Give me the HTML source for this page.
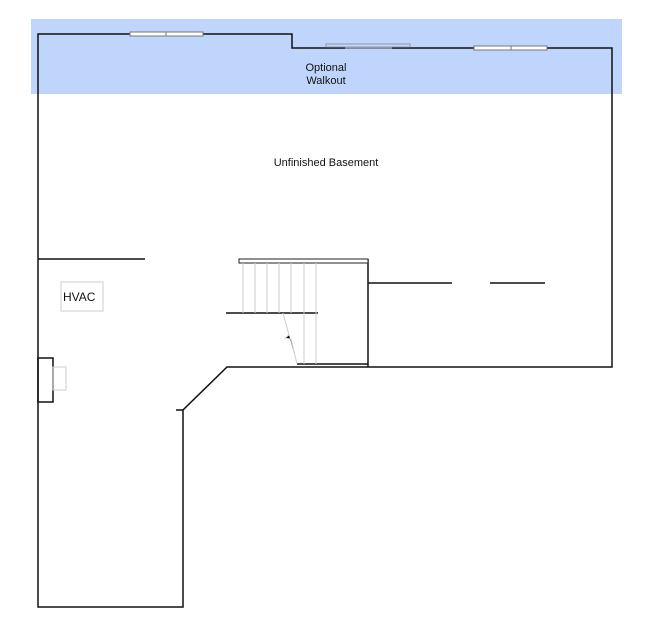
<!DOCTYPE html>
<html><head><style>body{margin:0;background:#fff}svg{display:block}text{font-family:"Liberation Sans",sans-serif;font-size:11px;fill:#111}</style></head><body>
<svg width="668" height="627" viewBox="0 0 668 627">
<rect x="31" y="19" width="591" height="75" fill="#bfd5fb"/>
<g fill="none" stroke="#111" stroke-width="1.5">
<path d="M38,607 L38,34 L292,34 L292,48 L612,48 L612,367 L227,367 L183,410 L183,607 Z"/>
<path d="M176,410 L183,410"/>
<path d="M38,259 L145,259"/>
<path d="M368,283 L452,283 M490,283 L545,283"/>
<path d="M368,259 L368,367"/>
<path d="M226,313 L318,313"/>
<path d="M297,364 L368,364"/>
<rect x="38" y="358" width="15" height="44"/>
</g>
<rect x="130" y="32" width="73" height="4" fill="#fff" stroke="#777"/>
<line x1="166" y1="32" x2="166" y2="36" stroke="#777"/>
<rect x="474" y="46" width="73" height="4" fill="#fff" stroke="#777"/>
<line x1="511" y1="46" x2="511" y2="50" stroke="#777"/>
<rect x="326" y="44" width="84" height="3" fill="#c8d8f0" stroke="#8898b0"/>
<line x1="345" y1="48" x2="392" y2="48" stroke="#8898b0" stroke-width="1.5"/>
<rect x="239" y="259" width="129" height="4" fill="#fff" stroke="#222"/>
<g stroke="#ccc" stroke-width="1">
<path d="M243,263V313 M255,263V313 M267,263V313 M279,263V313 M291,263V313 M304,263V364 M316,263V364"/>
<path d="M283,313 L289,335 L285,338 L291,339 L297,364"/>
</g>
<rect x="61" y="282" width="42" height="29" fill="#fff" stroke="#ccc"/>
<text x="63" y="301" style="font-size:12px">HVAC</text>
<rect x="53" y="367" width="13" height="23" fill="none" stroke="#ccc"/>
<text x="326" y="71" text-anchor="middle">Optional</text>
<text x="326" y="84" text-anchor="middle">Walkout</text>
<text x="326" y="166" text-anchor="middle">Unfinished Basement</text>
</svg>
</body></html>
